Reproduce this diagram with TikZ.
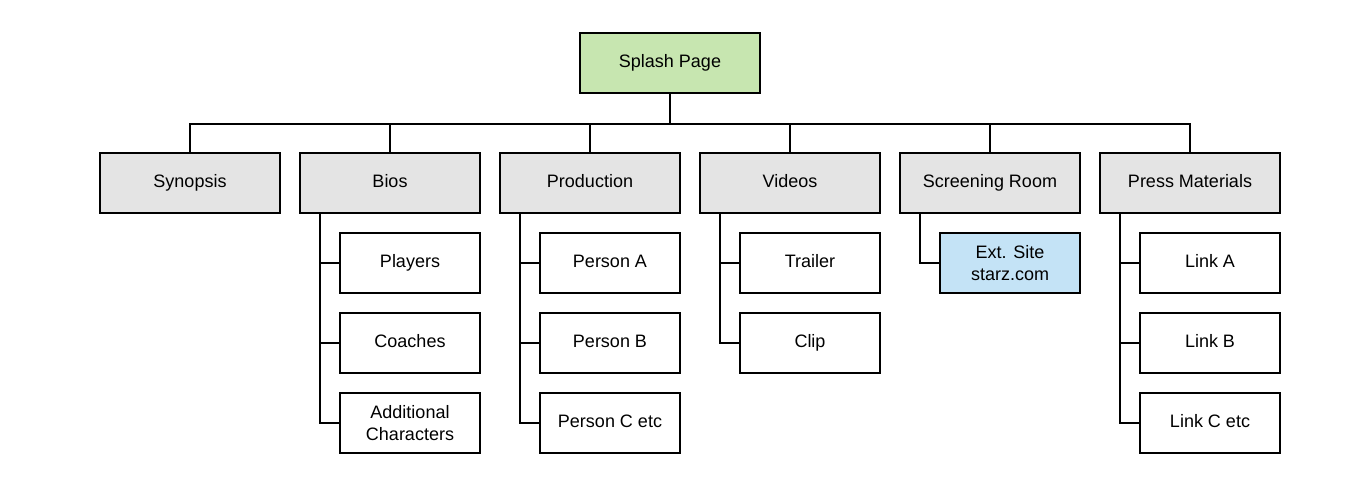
\documentclass[tikz,border=0pt]{standalone}
\usepackage{fontspec}
\setmainfont{Liberation Sans}
\definecolor{splashgreen}{HTML}{C7E6B0}
\definecolor{secgray}{HTML}{E4E4E4}
\definecolor{extblue}{HTML}{C4E3F6}
\begin{document}
\begin{tikzpicture}[x=1pt,y=-1pt,
  box/.style={draw=black,line width=2pt,minimum width=180pt,minimum height=60pt,inner sep=0pt,align=center,font=\fontsize{18pt}{22pt}\selectfont},
  one/.style={text height=13pt,text depth=4pt},
  secbox/.style={box,one,fill=secgray},
  childbox/.style={box,fill=white,minimum width=140pt},
  link/.style={draw=black,line width=2pt}]
\useasboundingbox[fill=white] (0,0) rectangle (1360,495);
\node[box,one,fill=splashgreen] (splash) at (670,63) {Splash Page};
\node[secbox] (syn) at (190,183) {Synopsis};
\node[secbox] (bios) at (390,183) {Bios};
\node[secbox] (prod) at (590,183) {Production};
\node[secbox] (vid) at (790,183) {Videos};
\node[secbox] (scr) at (990,183) {Screening Room};
\node[secbox] (press) at (1190,183) {Press Materials};
\node[childbox,one] (players) at (410,263) {Players};
\node[childbox,one] (coaches) at (410,343) {Coaches};
\node[childbox] (addl) at (410,423) {Additional\\Characters};
\node[childbox,one] (pa) at (610,263) {Person A};
\node[childbox,one] (pb) at (610,343) {Person B};
\node[childbox,one] (pc) at (610,423) {Person C etc};
\node[childbox,one] (trailer) at (810,263) {Trailer};
\node[childbox,one] (clip) at (810,343) {Clip};
\node[childbox,fill=extblue] (ext) at (1010,263) {Ext. Site\\starz.com};
\node[childbox,one] (la) at (1210,263) {Link A};
\node[childbox,one] (lb) at (1210,343) {Link B};
\node[childbox,one] (lc) at (1210,423) {Link C etc};
\foreach \s in {syn,bios,prod,vid,scr,press}
  \draw[link] (splash.south) -- ++(0,30) -| (\s.north);
\foreach \c in {players,coaches,addl}
  \draw[link] ([xshift=-70pt]bios.south) |- (\c.west);
\foreach \c in {pa,pb,pc}
  \draw[link] ([xshift=-70pt]prod.south) |- (\c.west);
\foreach \c in {trailer,clip}
  \draw[link] ([xshift=-70pt]vid.south) |- (\c.west);
\draw[link] ([xshift=-70pt]scr.south) |- (ext.west);
\foreach \c in {la,lb,lc}
  \draw[link] ([xshift=-70pt]press.south) |- (\c.west);
\end{tikzpicture}
\end{document}
